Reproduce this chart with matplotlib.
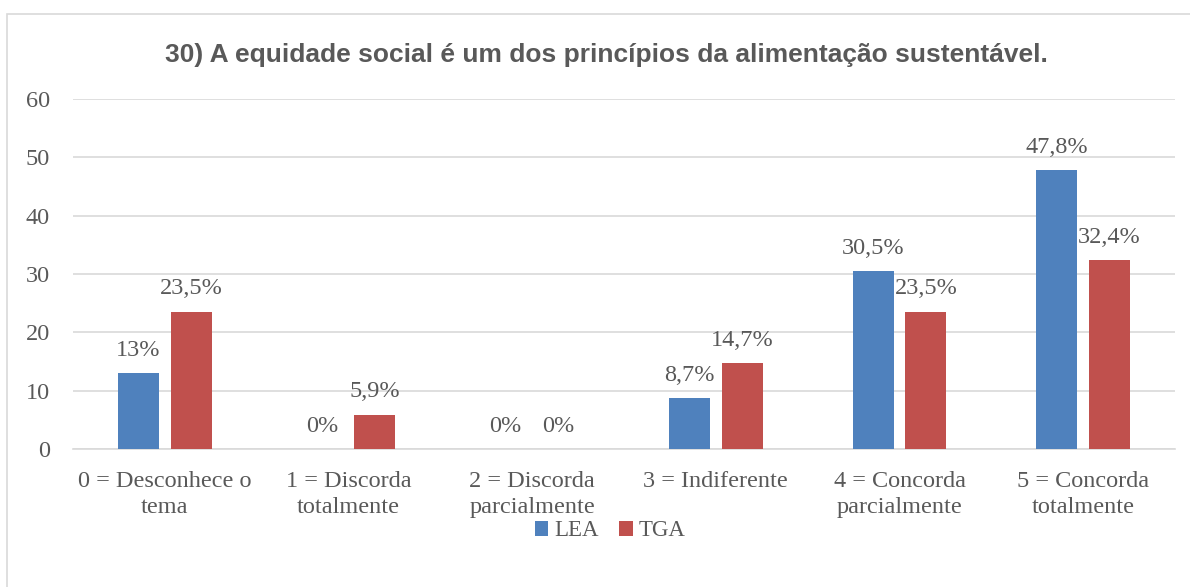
import matplotlib
matplotlib.use("Agg")
import matplotlib.pyplot as plt
from matplotlib.patches import Rectangle
import numpy as np

categories = ["0 = Desconhece o\ntema", "1 = Discorda\ntotalmente",
              "2 = Discorda\nparcialmente", "3 = Indiferente",
              "4 = Concorda\nparcialmente", "5 = Concorda\ntotalmente"]
lea = [13, 0, 0, 8.7, 30.5, 47.8]
tga = [23.5, 5.9, 0, 14.7, 23.5, 32.4]
lea_labels = ["13%", "0%", "0%", "8,7%", "30,5%", "47,8%"]
tga_labels = ["23,5%", "5,9%", "0%", "14,7%", "23,5%", "32,4%"]
title = "30) A equidade social é um dos princípios da alimentação sustentável."

blue = "#4F81BD"
red = "#C0504D"
text_col = "#595959"
serif = ["Liberation Serif", "DejaVu Serif"]
fs = 17.5

fig = plt.figure(figsize=(11.9, 5.87), dpi=100)
W, H = 1190, 587
ax = fig.add_axes([73 / W, 1 - 449 / H, (1175 - 73) / W, 350 / H])

# outer chart frame
fig.patches.append(Rectangle((7 / W, -0.01), 1.0, 1 - 14 / H + 0.01, transform=fig.transFigure,
                             fill=False, edgecolor="#D9D9D9", linewidth=1.2))

x = np.arange(len(categories))
bw = 0.223
off = 0.144
b1 = ax.bar(x - off, lea, bw, color=blue, label="LEA", zorder=3)
b2 = ax.bar(x + off, tga, bw, color=red, label="TGA", zorder=3)

for bars, labels in ((b1, lea_labels), (b2, tga_labels)):
    for rect, lab in zip(bars, labels):
        ax.annotate(lab, (rect.get_x() + rect.get_width() / 2, rect.get_height()),
                    xytext=(0, 9), textcoords="offset points",
                    ha="center", va="bottom", fontsize=fs, color=text_col, family=serif)

ax.set_xlim(-0.5, len(categories) - 0.5)
ax.set_ylim(0, 60)
ax.set_yticks(range(0, 61, 10))
ax.yaxis.grid(True, color="#D9D9D9", linewidth=1.2, zorder=0)
ax.set_axisbelow(True)
for s in ["top", "right", "left"]:
    ax.spines[s].set_visible(False)
ax.spines["bottom"].set_color("#D9D9D9")
ax.spines["bottom"].set_linewidth(1.2)
ax.tick_params(axis="both", length=0, colors=text_col, labelsize=fs)
ax.tick_params(axis="y", pad=16.5)
ax.tick_params(axis="x", pad=15.5)
ax.set_xticks(x)
ax.set_xticklabels(categories, family=serif, linespacing=1.33)
for t in ax.get_yticklabels():
    t.set_family(serif)

fig.text(0.5 * (160 + 1052) / W, 1 - 55 / H, title, ha="center", va="center",
         fontsize=19, fontweight="bold", color=text_col, family=["Liberation Sans", "DejaVu Sans"])

leg = fig.legend(handles=[b1, b2], labels=["LEA", "TGA"], loc="center",
                 bbox_to_anchor=(610 / W, 1 - 531 / H), ncol=2, frameon=False,
                 prop={"family": serif, "size": 16.5}, handlelength=0.6, handleheight=0.6,
                 handletextpad=0.25, columnspacing=0.9)
for t in leg.get_texts():
    t.set_color(text_col)

fig.savefig("out.png", dpi=100, facecolor="white")
